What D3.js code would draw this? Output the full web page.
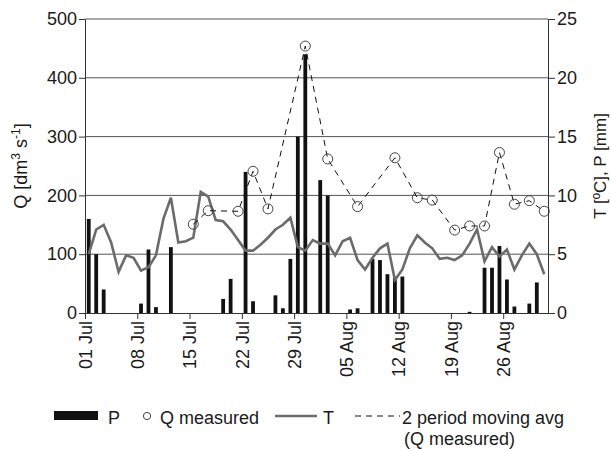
<!DOCTYPE html>
<html>
<head>
<meta charset="utf-8">
<script src="https://cdn.jsdelivr.net/npm/d3@7"></script>
<style>
  html, body { margin: 0; padding: 0; background: #fff; }
  svg { display: block; font-family: "Liberation Sans", Arial, sans-serif; }
</style>
</head>
<body>
<svg id="chart" width="611" height="451"></svg>
<script>
// ---- data ----
const startDate = "2013-07-01";
const endDate = "2013-09-01";
// Daily air temperature T [°C], from 01 Jul
const tValues = [5.0, 7.1, 7.5, 6.0, 3.5, 4.9, 4.7, 3.6, 3.9, 4.9,
                 8.0, 9.8, 6.0, 6.1, 6.4, 10.3, 9.9, 7.9, 7.8, 7.1,
                 6.2, 5.3, 5.3, 5.8, 6.4, 7.1, 7.5, 8.1, 5.6, 5.3,
                 6.2, 5.9, 5.9, 4.9, 6.1, 6.4, 4.5, 3.7, 4.7, 5.5,
                 5.9, 2.8, 3.7, 5.5, 6.6, 6.0, 5.5, 4.6, 4.7, 4.5,
                 4.9, 5.9, 7.1, 4.4, 5.6, 4.8, 5.4, 3.7, 4.9, 5.9,
                 5.0, 3.3];
// Precipitation P [mm]
const pDates = ["2013-07-01","2013-07-02","2013-07-03","2013-07-08","2013-07-09","2013-07-10","2013-07-12",
                "2013-07-19","2013-07-20","2013-07-22","2013-07-23","2013-07-26","2013-07-27","2013-07-28",
                "2013-07-29","2013-07-30","2013-08-01","2013-08-02","2013-08-05","2013-08-06","2013-08-08",
                "2013-08-09","2013-08-10","2013-08-11","2013-08-12","2013-08-21","2013-08-23","2013-08-24",
                "2013-08-25","2013-08-26","2013-08-27","2013-08-29","2013-08-30"];
const pValues = [8.0, 5.0, 2.0, 0.8, 5.4, 0.5, 5.6,
                 1.2, 2.9, 12.0, 1.0, 1.5, 0.4, 4.6,
                 15.0, 22.0, 11.3, 10.0, 0.3, 0.4, 4.6,
                 4.5, 3.3, 3.0, 3.1, 0.1, 3.85, 3.85,
                 5.7, 2.85, 0.55, 0.8, 2.6];
// Measured discharge Q [dm3/s]
const qDates = ["2013-07-15","2013-07-17","2013-07-21","2013-07-23","2013-07-25","2013-07-30",
                "2013-08-02","2013-08-06","2013-08-11","2013-08-14","2013-08-16","2013-08-19",
                "2013-08-21","2013-08-23","2013-08-25","2013-08-27","2013-08-29","2013-08-31"];
const qValues = [151, 174, 173, 241, 177, 454,
                 262, 181, 264, 196, 192, 141,
                 148, 148, 273, 185, 191, 173];
const qTicks = [0, 100, 200, 300, 400, 500];
const rightTicks = [0, 5, 10, 15, 20, 25];
const xTickDates = ["2013-07-01","2013-07-08","2013-07-15","2013-07-22","2013-07-29",
                    "2013-08-05","2013-08-12","2013-08-19","2013-08-26"];

// ---- layout ----
const svg = d3.select("#chart");
const L = 85, R = 548, T = 19, B = 313;
const parse = d3.utcParse("%Y-%m-%d");
const HALF = 12 * 3600 * 1000;
const x = d3.scaleUtc().domain([parse(startDate), parse(endDate)]).range([L, R]);
const xc = d => x(new Date(d.getTime() + HALF));
const yQ = d3.scaleLinear().domain([0, 500]).range([B, T]);
const yT = d3.scaleLinear().domain([0, 25]).range([B, T]);
const FONT = 18;
const textCol = "#1a1a1a";
const axisCol = "#333";

const tData = tValues.map((v, i) => ({ date: d3.utcDay.offset(parse(startDate), i), v }));
const pData = pDates.map((d, i) => ({ date: parse(d), v: pValues[i] }));
const qData = qDates.map((d, i) => ({ date: parse(d), v: qValues[i] }));

// gridlines
svg.append("g").selectAll("line").data(qTicks.filter(v => v > 0)).join("line")
  .attr("x1", L).attr("x2", R)
  .attr("y1", d => yQ(d)).attr("y2", d => yQ(d))
  .attr("stroke", "#555").attr("stroke-width", 1);

// bars P
const bw = 3.8;
svg.append("g").selectAll("rect").data(pData).join("rect")
  .attr("x", d => xc(d.date) - bw / 2)
  .attr("width", bw)
  .attr("y", d => yT(d.v))
  .attr("height", d => B - yT(d.v))
  .attr("fill", "#111");

// T line
svg.append("path").datum(tData)
  .attr("d", d3.line().x(d => xc(d.date)).y(d => yT(d.v)))
  .attr("fill", "none").attr("stroke", "#6b6b6b").attr("stroke-width", 2.6)
  .attr("stroke-linejoin", "miter");

// Q moving avg dashed line
svg.append("path").datum(qData)
  .attr("d", d3.line().x(d => xc(d.date)).y(d => yQ(d.v)))
  .attr("fill", "none").attr("stroke", "#111").attr("stroke-width", 1)
  .attr("stroke-dasharray", "6,5");

// Q measured circles
svg.append("g").selectAll("circle").data(qData).join("circle")
  .attr("cx", d => xc(d.date)).attr("cy", d => yQ(d.v)).attr("r", 5)
  .attr("fill", "none").attr("stroke", "#444").attr("stroke-width", 1);

// axes
function styleAxis(g) {
  g.selectAll("path.domain").attr("stroke", axisCol);
  g.selectAll(".tick line").attr("stroke", axisCol);
  g.selectAll("text").attr("fill", textCol).style("font-size", FONT + "px")
    .style("font-family", '"Liberation Sans", Arial, sans-serif');
}
const gl = svg.append("g").attr("transform", `translate(${L},0)`)
  .call(d3.axisLeft(yQ).tickValues(qTicks).tickSize(6).tickSizeOuter(0).tickPadding(2));
styleAxis(gl);

const gr = svg.append("g").attr("transform", `translate(${R},0)`)
  .call(d3.axisRight(yT).tickValues(rightTicks).tickSize(7).tickSizeOuter(0).tickPadding(2));
styleAxis(gr);

const gb = svg.append("g").attr("transform", `translate(0,${B})`)
  .call(d3.axisBottom(x).tickValues(xTickDates.map(parse)).tickFormat(d3.utcFormat("%d %b"))
    .tickSize(6).tickSizeOuter(0));
styleAxis(gb);
gb.selectAll("text")
  .attr("transform", "rotate(-90)")
  .attr("x", -8).attr("y", 0).attr("dy", "0.35em")
  .style("text-anchor", "end");

// axis titles
const lt = svg.append("text")
  .attr("transform", `translate(27,${(T + B) / 2}) rotate(-90)`)
  .attr("text-anchor", "middle").attr("fill", textCol).style("font-size", FONT + "px");
lt.append("tspan").text("Q [dm");
lt.append("tspan").text("3").attr("dy", -7).style("font-size", "12px");
lt.append("tspan").text(" s").attr("dy", 7);
lt.append("tspan").text("-1").attr("dy", -7).style("font-size", "12px");
lt.append("tspan").text("]").attr("dy", 7);

svg.append("text")
  .attr("transform", `translate(606,${(T + B) / 2}) rotate(-90)`)
  .attr("text-anchor", "middle").attr("fill", textCol).style("font-size", "17px")
  .text("T [ºC], P [mm]");

// legend
const lg = svg.append("g");
const ly = 416, lb = 424;
lg.append("rect").attr("x", 54).attr("y", 411).attr("width", 44).attr("height", 9).attr("fill", "#111");
lg.append("text").attr("x", 108).attr("y", lb).text("P");
lg.append("circle").attr("cx", 147).attr("cy", ly).attr("r", 3.6)
  .attr("fill", "none").attr("stroke", "#444").attr("stroke-width", 1);
lg.append("text").attr("x", 160).attr("y", lb).text("Q measured");
lg.append("line").attr("x1", 275).attr("x2", 317).attr("y1", ly).attr("y2", ly)
  .attr("stroke", "#6b6b6b").attr("stroke-width", 2.6);
lg.append("text").attr("x", 323).attr("y", lb).text("T");
lg.append("line").attr("x1", 355).attr("x2", 400).attr("y1", ly).attr("y2", ly)
  .attr("stroke", "#111").attr("stroke-width", 1).attr("stroke-dasharray", "6,5");
lg.append("text").attr("x", 402).attr("y", lb).text("2 period moving avg");
lg.append("text").attr("x", 404).attr("y", 445).text("(Q measured)");
lg.selectAll("text").attr("fill", textCol).style("font-size", FONT + "px");
</script>
</body>
</html>
